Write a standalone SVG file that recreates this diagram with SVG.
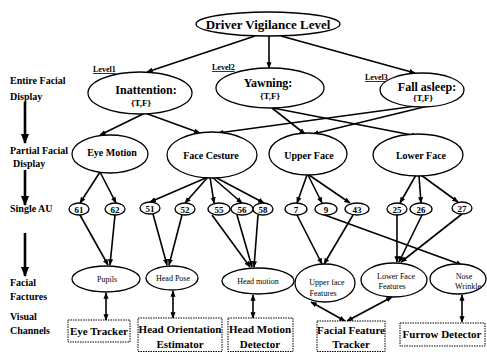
<svg xmlns="http://www.w3.org/2000/svg" width="487" height="352" viewBox="0 0 487 352">
<defs>
<marker id="a" viewBox="0 0 10 10" refX="9" refY="5" markerWidth="4" markerHeight="4" orient="auto-start-reverse"><path d="M0,1 L10,5 L0,9z" fill="#000"/></marker>
<style>
.n ellipse{fill:#fff;stroke:#000;stroke-width:1.3}
.b{font-family:"Liberation Serif","Times New Roman",serif;font-weight:bold;fill:#000;text-anchor:middle}
.s{font-family:"Liberation Serif","Times New Roman",serif;fill:#000;text-anchor:middle;font-size:8px}
.l{font-family:"Liberation Serif","Times New Roman",serif;font-weight:bold;fill:#000;font-size:10px}
.lv{font-family:"Liberation Serif","Times New Roman",serif;font-weight:bold;fill:#000;font-size:8px;text-decoration:underline}
.e line{stroke:#000;stroke-width:1.6;marker-end:url(#a)}
.e line.d{marker-start:url(#a)}
.e line.k{stroke-width:2.6}
.bx rect{fill:#fff;stroke:#000;stroke-width:1;stroke-dasharray:1.5 1}
</style>
</defs>
<rect width="487" height="352" fill="#fff"/>

<g id="row-labels">
<text class="l" x="10" y="84">Entire Facial</text>
<text class="l" x="10" y="100">Display</text>
<text class="l" x="10" y="154">Partial Facial</text>
<text class="l" x="13" y="167">Display</text>
<text class="l" x="10" y="212">Single AU</text>
<text class="l" x="10" y="286">Facial</text>
<text class="l" x="10" y="300">Factures</text>
<text class="l" x="10" y="320">Visual</text>
<text class="l" x="10" y="334">Channels</text>
<text class="lv" x="93" y="72">Level1</text>
<text class="lv" x="212" y="70">Level2</text>
<text class="lv" x="365" y="80">Level3</text>
</g>

<g id="connectors" class="e">
<line class="k" x1="25" y1="102" x2="25" y2="143"/>
<line class="k" x1="25" y1="170" x2="25" y2="205"/>
<line class="k" x1="25" y1="233" x2="25" y2="276"/>

<line x1="255" y1="36" x2="147" y2="72"/>
<line x1="269" y1="36" x2="269" y2="68"/>
<line x1="281" y1="36" x2="415" y2="73"/>

<line x1="145" y1="113" x2="100" y2="135"/>
<line x1="145" y1="113" x2="200" y2="133"/>
<line x1="272" y1="108" x2="305" y2="134"/>
<line x1="273" y1="108" x2="417" y2="136"/>
<line x1="431" y1="104" x2="218" y2="133"/>
<line x1="428" y1="106" x2="313" y2="134"/>

<line x1="100" y1="172" x2="80" y2="203"/>
<line x1="100" y1="172" x2="116" y2="203"/>
<line x1="208" y1="177" x2="150" y2="202"/>
<line x1="208" y1="177" x2="185" y2="203"/>
<line x1="210" y1="177" x2="214" y2="203"/>
<line x1="212" y1="177" x2="242" y2="203"/>
<line x1="213" y1="176" x2="264" y2="203"/>
<line x1="307" y1="175" x2="297" y2="203"/>
<line x1="308" y1="175" x2="322" y2="203"/>
<line x1="309" y1="175" x2="350" y2="203"/>
<line x1="416" y1="175" x2="400" y2="203"/>
<line x1="419" y1="176" x2="421" y2="203"/>
<line x1="421" y1="175" x2="458" y2="202"/>

<line x1="80" y1="215" x2="108" y2="265"/>
<line x1="115" y1="215" x2="110" y2="265"/>
<line x1="153" y1="214" x2="167" y2="265"/>
<line x1="182" y1="215" x2="169" y2="265"/>
<line x1="212" y1="215" x2="250" y2="267"/>
<line x1="237" y1="215" x2="252" y2="267"/>
<line x1="258" y1="215" x2="254" y2="267"/>
<line x1="297" y1="215" x2="322" y2="264"/>
<line x1="353" y1="215" x2="324" y2="264"/>
<line x1="322" y1="214" x2="462" y2="265"/>
<line x1="397" y1="215" x2="397" y2="262"/>
<line x1="422" y1="215" x2="399" y2="262"/>
<line x1="462" y1="214" x2="401" y2="262"/>

<line class="d" x1="106" y1="293" x2="106" y2="320"/>
<line class="d" x1="173" y1="291" x2="173" y2="318"/>
<line class="d" x1="253" y1="295" x2="253" y2="318"/>
<line class="d" x1="311" y1="302" x2="345" y2="321"/>
<line class="d" x1="392" y1="297" x2="347" y2="321"/>
<line class="d" x1="462" y1="295" x2="462" y2="322"/>
</g>

<g id="driver-vigilance" class="n"><ellipse cx="268" cy="24" rx="72" ry="12"/><text class="b" x="268" y="29" font-size="13">Driver Vigilance Level</text></g>

<g id="inattention" class="n"><ellipse cx="140" cy="93" rx="52" ry="21"/><text class="b" x="146" y="94" font-size="12">Inattention:</text><text class="b" x="141" y="106" font-size="9">{T,F}</text></g>
<g id="yawning" class="n"><ellipse cx="270" cy="88" rx="54" ry="20"/><text class="b" x="268" y="87" font-size="12">Yawning:</text><text class="b" x="270" y="99" font-size="9">{T,F}</text></g>
<g id="fall-asleep" class="n"><ellipse cx="422" cy="90" rx="42" ry="17"/><text class="b" x="427" y="91" font-size="12">Fall asleep:</text><text class="b" x="423" y="101" font-size="9">{T,F}</text></g>

<g id="eye-motion" class="n"><ellipse cx="110" cy="154" rx="38" ry="19"/><text class="b" x="112" y="156" font-size="10">Eye Motion</text></g>
<g id="face-gesture" class="n"><ellipse cx="212" cy="155" rx="45" ry="23"/><text class="b" x="211" y="159" font-size="10">Face Cesture</text></g>
<g id="upper-face" class="n"><ellipse cx="308" cy="154" rx="39" ry="21"/><text class="b" x="309" y="159" font-size="10">Upper Face</text></g>
<g id="lower-face" class="n"><ellipse cx="418" cy="155" rx="45" ry="21"/><text class="b" x="421" y="159" font-size="10">Lower Face</text></g>

<g id="au61" class="n"><ellipse cx="79" cy="209" rx="10" ry="6"/><text class="b" x="79" y="213" font-size="9">61</text></g>
<g id="au62" class="n"><ellipse cx="115" cy="209" rx="10" ry="6"/><text class="b" x="115" y="213" font-size="9">62</text></g>
<g id="au51" class="n"><ellipse cx="150" cy="208" rx="10" ry="6"/><text class="b" x="150" y="212" font-size="9">51</text></g>
<g id="au52" class="n"><ellipse cx="185" cy="209" rx="10" ry="6"/><text class="b" x="185" y="213" font-size="9">52</text></g>
<g id="au55" class="n"><ellipse cx="219" cy="209" rx="11" ry="6"/><text class="b" x="219" y="213" font-size="9">55</text></g>
<g id="au56" class="n"><ellipse cx="242" cy="209" rx="11" ry="6"/><text class="b" x="242" y="213" font-size="9">56</text></g>
<g id="au58" class="n"><ellipse cx="263" cy="209" rx="10" ry="6"/><text class="b" x="263" y="213" font-size="9">58</text></g>
<g id="au7" class="n"><ellipse cx="296" cy="209" rx="11" ry="6"/><text class="b" x="296" y="213" font-size="9">7</text></g>
<g id="au9" class="n"><ellipse cx="326" cy="209" rx="11" ry="6"/><text class="b" x="326" y="213" font-size="9">9</text></g>
<g id="au43" class="n"><ellipse cx="357" cy="209" rx="12" ry="6"/><text class="b" x="357" y="213" font-size="9">43</text></g>
<g id="au25" class="n"><ellipse cx="397" cy="209" rx="10" ry="6"/><text class="b" x="397" y="213" font-size="9">25</text></g>
<g id="au26" class="n"><ellipse cx="421" cy="209" rx="11" ry="6"/><text class="b" x="421" y="213" font-size="9">26</text></g>
<g id="au27" class="n"><ellipse cx="462" cy="208" rx="10" ry="6"/><text class="b" x="462" y="212" font-size="9">27</text></g>

<g id="pupils" class="n"><ellipse cx="106" cy="279" rx="34" ry="13"/><text class="s" x="107" y="282">Pupils</text></g>
<g id="head-pose" class="n"><ellipse cx="172" cy="278" rx="26" ry="12"/><text class="s" x="173" y="281">Head Pose</text></g>
<g id="head-motion" class="n"><ellipse cx="258" cy="281" rx="36" ry="13"/><text class="s" x="258" y="284">Head motion</text></g>
<g id="upper-face-features" class="n"><ellipse cx="325" cy="283" rx="30" ry="19"/><text class="s" x="327" y="285">Upper face</text><text class="s" x="323" y="296">Features</text></g>
<g id="lower-face-features" class="n"><ellipse cx="394" cy="280" rx="33" ry="17"/><text class="s" x="396" y="279">Lower Face</text><text class="s" x="392" y="289">Features</text></g>
<g id="nose-wrinkle" class="n"><ellipse cx="458" cy="279" rx="28" ry="15"/><text class="s" x="464" y="279">Nose</text><text class="s" x="468" y="289">Wrinkle</text></g>

<g id="eye-tracker" class="bx"><rect x="68" y="320" width="62" height="22"/><text class="b" x="99" y="335" font-size="11">Eye Tracker</text></g>
<g id="head-orientation-estimator" class="bx"><rect x="138" y="318" width="84" height="33.5"/><text class="b" x="180" y="333" font-size="11">Head Orientation</text><text class="b" x="180" y="348" font-size="11">Estimator</text></g>
<g id="head-motion-detector" class="bx"><rect x="228" y="318" width="65" height="33.5"/><text class="b" x="260" y="333" font-size="11">Head Motion</text><text class="b" x="260" y="348" font-size="11">Detector</text></g>
<g id="facial-feature-tracker" class="bx"><rect x="317" y="321" width="68" height="30.5"/><text class="b" x="351" y="334" font-size="11">Facial Feature</text><text class="b" x="351" y="348" font-size="11">Tracker</text></g>
<g id="furrow-detector" class="bx"><rect x="400" y="323" width="85" height="23"/><text class="b" x="442" y="338" font-size="11">Furrow Detector</text></g>
</svg>
